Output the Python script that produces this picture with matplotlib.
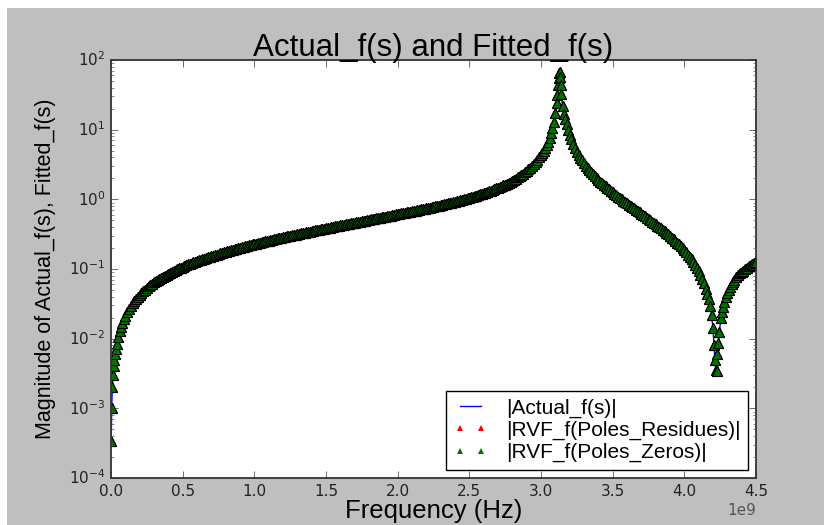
import numpy as np
import matplotlib
matplotlib.use('Agg')
import matplotlib.pyplot as plt
from matplotlib.patches import Rectangle

# Frequency samples (GHz) and magnitudes
freq_ghz = [
    0.0016, 0.0047, 0.0094, 0.014, 0.019, 0.0235, 0.028, 0.033, 0.04, 0.05,
    0.06, 0.07, 0.08, 0.09, 0.1,
    0.125, 0.15, 0.175, 0.2, 0.225, 0.25, 0.275, 0.3, 0.325, 0.35,
    0.375, 0.4, 0.425, 0.45, 0.475, 0.5, 0.525, 0.55, 0.575, 0.6,
    0.625, 0.65, 0.675, 0.7, 0.725, 0.75, 0.775, 0.8, 0.825, 0.85,
    0.875, 0.9, 0.925, 0.95, 0.975, 1.0, 1.025, 1.05, 1.075, 1.1,
    1.125, 1.15, 1.175, 1.2, 1.225, 1.25, 1.275, 1.3, 1.325, 1.35,
    1.375, 1.4, 1.425, 1.45, 1.475, 1.5, 1.525, 1.55, 1.575, 1.6,
    1.625, 1.65, 1.675, 1.7, 1.725, 1.75, 1.775, 1.8, 1.825, 1.85,
    1.875, 1.9, 1.925, 1.95, 1.975, 2.0, 2.025, 2.05, 2.075, 2.1,
    2.125, 2.15, 2.175, 2.2, 2.225, 2.25, 2.275, 2.3, 2.325, 2.35,
    2.375, 2.4, 2.425, 2.45, 2.475, 2.5, 2.525, 2.55, 2.575, 2.6,
    2.625, 2.65, 2.675, 2.7, 2.725, 2.75, 2.775, 2.8, 2.825, 2.85,
    2.875, 2.9, 2.925, 2.95, 2.975, 3.0,
    3.02, 3.04, 3.06, 3.08, 3.09, 3.1, 3.11, 3.115, 3.12, 3.124,
    3.127, 3.13, 3.133, 3.137, 3.142, 3.15, 3.16, 3.18, 3.2,
    3.225, 3.25, 3.275, 3.3, 3.325, 3.35, 3.375, 3.4, 3.425, 3.45,
    3.475, 3.5, 3.525, 3.55, 3.575, 3.6, 3.625, 3.65, 3.675, 3.7,
    3.725, 3.75, 3.775, 3.8, 3.825, 3.85, 3.875, 3.9, 3.925, 3.95,
    3.975, 4.0, 4.025, 4.05, 4.075, 4.1, 4.125, 4.15, 4.17, 4.19,
    4.2, 4.207, 4.213, 4.219, 4.225, 4.231, 4.237, 4.245, 4.255, 4.27,
    4.29, 4.31, 4.33, 4.35, 4.375, 4.4, 4.425, 4.45, 4.475, 4.5,
]

mag_actual = [
    0.00034, 0.0010, 0.0020, 0.0030, 0.0040, 0.0050, 0.0060, 0.0070, 0.0085, 0.0107,
    0.0128, 0.0149, 0.0170, 0.0192, 0.0213,
    0.0266, 0.0320, 0.0373, 0.0427, 0.0480, 0.0534, 0.0588, 0.0642, 0.0696, 0.0750,
    0.0804, 0.0858, 0.0913, 0.0967, 0.1022, 0.1077, 0.1133, 0.1188, 0.1244, 0.1300,
    0.1356, 0.1413, 0.1469, 0.1526, 0.1584, 0.1641, 0.1702, 0.1765, 0.1827, 0.1890,
    0.1954, 0.2019, 0.2084, 0.2150, 0.2216, 0.2284, 0.2352, 0.2421, 0.2491, 0.2562,
    0.2633, 0.2706, 0.2779, 0.2854, 0.2929, 0.3006, 0.3083, 0.3162, 0.3243, 0.3324,
    0.3407, 0.3491, 0.3576, 0.3663, 0.3752, 0.3843, 0.3934, 0.4027, 0.4123, 0.4221,
    0.4321, 0.4421, 0.4526, 0.4632, 0.4741, 0.4851, 0.4966, 0.5083, 0.5203, 0.5326,
    0.5453, 0.5583, 0.5717, 0.5856, 0.5998, 0.6146, 0.6287, 0.6432, 0.6584, 0.6740,
    0.6901, 0.7070, 0.7246, 0.7428, 0.7620, 0.7818, 0.8028, 0.8247, 0.8478, 0.8720,
    0.8978, 0.9250, 0.9539, 0.9845, 1.017, 1.052, 1.090, 1.131, 1.175, 1.223,
    1.275, 1.332, 1.396, 1.466, 1.544, 1.632, 1.734, 1.848, 1.982, 2.138,
    2.326, 2.553, 2.837, 3.196, 3.676, 4.338,
    5.00, 5.96, 7.55, 10.4, 13.0, 17.3, 24.4, 31.7, 43.4, 55.0,
    66.0, 68.0, 57.8, 44.2, 32.5, 22.1, 17.0, 11.9, 8.48,
    6.18, 4.82, 3.94, 3.30, 2.82, 2.45, 2.15, 1.91, 1.70, 1.54,
    1.387, 1.260, 1.147, 1.046, 0.958, 0.877, 0.805, 0.739, 0.678, 0.623,
    0.571, 0.524, 0.480, 0.439, 0.401, 0.365, 0.330, 0.299, 0.268, 0.239,
    0.212, 0.186, 0.161, 0.1375, 0.1148, 0.0931, 0.0724, 0.0523, 0.0368, 0.0218,
    0.0140, 0.0080, 0.0050, 0.0035, 0.0034, 0.0060, 0.0088, 0.0125, 0.0201, 0.0284,
    0.0393, 0.0499, 0.0603, 0.0704, 0.0827, 0.0900, 0.1000, 0.1100, 0.1190, 0.1280,
]

# additional samples read between the ones above (the trace is densely sampled)
freq_ghz_extra = [
    0.1125, 0.1375, 0.1625, 0.1875, 0.2125, 0.2375, 0.2625, 0.2875, 0.3125, 0.3375,
    0.3625, 0.3875, 0.4125, 0.4375, 0.4625, 0.4875, 0.5125, 0.5375, 0.5625, 0.5875,
    0.6125, 0.6375, 0.6625, 0.6875, 0.7125, 0.7375, 0.7625, 0.7875, 0.8125, 0.8375,
    0.8625, 0.8875, 0.9125, 0.9375, 0.9625, 0.9875, 1.0125, 1.0375, 1.0625, 1.0875,
    1.1125, 1.1375, 1.1625, 1.1875, 1.2125, 1.2375, 1.2625, 1.2875, 1.3125, 1.3375,
    1.3625, 1.3875, 1.4125, 1.4375, 1.4625, 1.4875, 1.5125, 1.5375, 1.5625, 1.5875,
    1.6125, 1.6375, 1.6625, 1.6875, 1.7125, 1.7375, 1.7625, 1.7875, 1.8125, 1.8375,
    1.8625, 1.8875, 1.9125, 1.9375, 1.9625, 1.9875, 2.0125, 2.0375, 2.0625, 2.0875,
    2.1125, 2.1375, 2.1625, 2.1875, 2.2125, 2.2375, 2.2625, 2.2875, 2.3125, 2.3375,
    2.3625, 2.3875, 2.4125, 2.4375, 2.4625, 2.4875, 2.5125, 2.5375, 2.5625, 2.5875,
    2.6125, 2.6375, 2.6625, 2.6875, 2.7125, 2.7375, 2.7625, 2.7875, 2.8125, 2.8375,
    2.8625, 2.8875, 2.9125, 2.9375, 2.9625, 2.9875, 3.01, 3.03, 3.05, 3.07,
    3.17, 3.19, 3.2125, 3.2375, 3.2625, 3.2875, 3.3125, 3.3375, 3.3625, 3.3875,
    3.4125, 3.4375, 3.4625, 3.4875, 3.5125, 3.5375, 3.5625, 3.5875, 3.6125, 3.6375,
    3.6625, 3.6875, 3.7125, 3.7375, 3.7625, 3.7875, 3.8125, 3.8375, 3.8625, 3.8875,
    3.9125, 3.9375, 3.9625, 3.9875, 4.0125, 4.0375, 4.0625, 4.0875, 4.1125, 4.1375,
    4.16, 4.18, 4.2625, 4.28, 4.30, 4.32, 4.34, 4.3625, 4.3875, 4.4125,
    4.4375, 4.4625, 4.4875,
]

mag_extra = [
    0.0240, 0.0293, 0.0347, 0.0400, 0.0454, 0.0507, 0.0561, 0.0615, 0.0669, 0.0723,
    0.0777, 0.0831, 0.0886, 0.0940, 0.0995, 0.1050, 0.1105, 0.1161, 0.1216, 0.1272,
    0.1328, 0.1385, 0.1441, 0.1498, 0.1555, 0.1613, 0.1672, 0.1734, 0.1796, 0.1859,
    0.1922, 0.1987, 0.2052, 0.2117, 0.2183, 0.2250, 0.2318, 0.2387, 0.2456, 0.2527,
    0.2598, 0.2670, 0.2743, 0.2817, 0.2892, 0.2968, 0.3045, 0.3123, 0.3203, 0.3284,
    0.3366, 0.3449, 0.3534, 0.3620, 0.3708, 0.3798, 0.3889, 0.3981, 0.4075, 0.4172,
    0.4271, 0.4371, 0.4474, 0.4579, 0.4687, 0.4796, 0.4909, 0.5025, 0.5143, 0.5265,
    0.5390, 0.5518, 0.5650, 0.5787, 0.5927, 0.6072, 0.6217, 0.6360, 0.6508, 0.6662,
    0.6821, 0.6986, 0.7158, 0.7337, 0.7524, 0.7719, 0.7923, 0.8138, 0.8363, 0.8599,
    0.8849, 0.9114, 0.9395, 0.9692, 1.001, 1.034, 1.071, 1.110, 1.153, 1.199,
    1.249, 1.303, 1.364, 1.431, 1.505, 1.588, 1.682, 1.790, 1.913, 2.058,
    2.229, 2.435, 2.690, 3.010, 3.427, 3.99, 4.65, 5.46, 6.71, 8.86,
    14.2, 10.0, 7.24, 5.46, 4.36, 3.61, 3.05, 2.63, 2.30, 2.03,
    1.80, 1.62, 1.462, 1.322, 1.202, 1.095, 1.001, 0.916, 0.840, 0.771,
    0.708, 0.650, 0.597, 0.547, 0.502, 0.459, 0.420, 0.383, 0.347, 0.314,
    0.283, 0.253, 0.225, 0.199, 0.173, 0.149, 0.126, 0.1034, 0.0825, 0.0620,
    0.0442, 0.0290, 0.0242, 0.0338, 0.0446, 0.0551, 0.0653, 0.0765, 0.0863, 0.0950,
    0.1050, 0.1145, 0.1235,
]

# fitted responses (overlap the actual response)
mag_rvf_residues_extra = list(mag_extra)
mag_rvf_zeros_extra = list(mag_extra)
mag_rvf_residues = list(mag_actual)
mag_rvf_zeros = list(mag_actual)

title_text = 'Actual_f(s) and Fitted_f(s)'
xlabel_text = 'Frequency (Hz)'
ylabel_text = 'Magnitude of Actual_f(s), Fitted_f(s)'
legend_labels = ['|Actual_f(s)|', '|RVF_f(Poles_Residues)|', '|RVF_f(Poles_Zeros)|']

# merge the samples in frequency order
f_all = np.array(freq_ghz + freq_ghz_extra) * 1e9
order = np.argsort(f_all)
freq_hz = f_all[order]
y_actual = np.array(mag_actual + mag_extra)[order]
y_res = np.array(mag_rvf_residues + mag_rvf_residues_extra)[order]
y_zer = np.array(mag_rvf_zeros + mag_rvf_zeros_extra)[order]

plt.style.use('classic')
fig = plt.figure(figsize=(8.24, 5.25), dpi=100, facecolor='white')
fig.patches.append(Rectangle((7 / 824, 0), 1, (525 - 8) / 525, transform=fig.transFigure,
                             facecolor='#bfbfbf', edgecolor='none', zorder=-10))

ax = fig.add_axes([111 / 824, 47 / 525, (756 - 111) / 824, (478 - 60) / 525])
ax.set_facecolor('white')

ax.semilogy(freq_hz, y_actual, color='blue', lw=1, label=legend_labels[0])
ax.semilogy(freq_hz, y_res, linestyle='none', marker='^', ms=7.5,
            mfc='red', mec='black', mew=0.8, label=legend_labels[1])
ax.semilogy(freq_hz, y_zer, linestyle='none', marker='^', ms=7.5,
            mfc=(0, 0.45, 0), mec='black', mew=0.8, label=legend_labels[2])

ax.set_xlim(0, 4.5e9)
ax.set_ylim(1e-4, 1e2)

helv = 'Liberation Sans'
ax.set_title(title_text, fontsize=22.5, family=helv, pad=3)
ax.set_xlabel(xlabel_text, fontsize=18.5, family=helv, labelpad=0)
ax.set_ylabel(ylabel_text, fontsize=15.5, family=helv, labelpad=9)

ax.tick_params(axis='both', which='major', labelsize=11, direction='in', length=5,
               top=True, right=True, colors='#333333', labelcolor='#222222')
ax.tick_params(axis='both', which='minor', direction='in', length=2.5,
               top=True, right=True, colors='#555555')
ax.xaxis.get_offset_text().set_fontsize(11)
for sp in ax.spines.values():
    sp.set_linewidth(1.3)
    sp.set_color('#333333')

leg = ax.legend(loc='lower right', numpoints=2, prop={'family': helv, 'size': 15},
                handlelength=1.6, handletextpad=0.9, borderpad=0.35, labelspacing=0.15,
                borderaxespad=0.4, fancybox=False, markerscale=0.65)
leg.get_frame().set_edgecolor('black')
leg.get_frame().set_linewidth(1.0)
for h in leg.legend_handles[1:]:
    h.set_markeredgewidth(0)

fig.savefig('out.png', dpi=100, facecolor=fig.get_facecolor())
